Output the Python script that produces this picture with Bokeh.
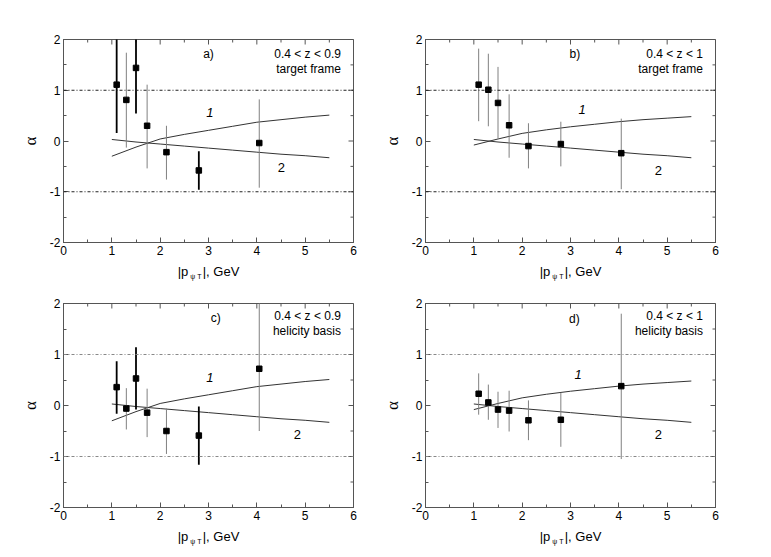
from bokeh.plotting import figure
from bokeh.models import Range1d, SingleIntervalTicker, FixedTicker, LinearAxis, Label, Span
from bokeh.layouts import column, row
from bokeh.embed import file_html
from bokeh.resources import INLINE

# ---------------- data ----------------
pt_x = [1.10, 1.30, 1.50, 1.73, 2.13, 2.80, 4.05]

a_y = [1.11, 0.81, 1.44, 0.30, -0.22, -0.58, -0.04]
a_lo = [0.16, -0.13, 0.54, -0.54, -0.76, -0.96, -0.92]
a_hi = [2.06, 1.74, 2.34, 1.11, 0.30, -0.20, 0.82]

b_y = [1.11, 1.01, 0.75, 0.31, -0.10, -0.06, -0.24]
b_lo = [0.39, 0.29, 0.05, -0.33, -0.54, -0.50, -0.95]
b_hi = [1.82, 1.72, 1.46, 0.92, 0.35, 0.38, 0.44]

c_y = [0.36, -0.06, 0.53, -0.14, -0.50, -0.59, 0.72]
c_lo = [-0.16, -0.47, -0.08, -0.62, -0.95, -1.16, -0.50]
c_hi = [0.87, 0.34, 1.14, 0.33, -0.06, -0.02, 2.05]

d_y = [0.23, 0.06, -0.08, -0.10, -0.29, -0.28, 0.38]
d_lo = [-0.18, -0.28, -0.44, -0.51, -0.68, -0.81, -1.05]
d_hi = [0.63, 0.41, 0.27, 0.29, 0.10, 0.25, 1.80]

curve_x = [1.0, 1.5, 2.0, 2.5, 3.0, 3.5, 4.0, 4.5, 5.0, 5.5]
curve1_ac = [-0.30, -0.12, 0.04, 0.13, 0.21, 0.29, 0.37, 0.42, 0.47, 0.51]
curve1_bd = [-0.08, 0.04, 0.15, 0.22, 0.28, 0.33, 0.38, 0.42, 0.45, 0.48]
curve2 = [0.03, -0.02, -0.06, -0.10, -0.14, -0.18, -0.22, -0.26, -0.29, -0.33]

x_ticks = [0, 1, 2, 3, 4, 5, 6]
y_ticks = [-2, -1, 0, 1, 2]
x_minor = [0.5, 1.5, 2.5, 3.5, 4.5, 5.5]
y_minor = [-1.5, -0.5, 0.5, 1.5]
y_tick_text = {-2: "-2", -1: "-1", 0: "0", 1: "1", 2: "2"}

NB = "\u00a0"
x_title_main = "|p" + NB * 4 + "|, GeV"
x_title_sub = "ψ T"
y_title = "α"

panel_tags = ["a)", "b)", "c)", "d)"]
z_ranges = ["0.4 < z < 0.9", "0.4 < z < 1", "0.4 < z < 0.9", "0.4 < z < 1"]
frames = ["target frame", "target frame", "helicity basis", "helicity basis"]

# style (which error bars are drawn bold)
a_bold = [True, False, True, False, False, True, False]
c_bold = [True, False, True, False, False, True, False]
no_bold = [False] * 7

SANS = "Liberation Sans"
AX = "#555555"


def style_axis(ax):
    ax.ticker = SingleIntervalTicker(interval=1, num_minor_ticks=2)
    ax.axis_line_color = AX
    ax.major_tick_line_color = AX
    ax.minor_tick_line_color = AX
    ax.major_tick_in = 5
    ax.major_tick_out = 0
    ax.minor_tick_in = 3
    ax.minor_tick_out = 0
    ax.major_label_text_font = SANS
    ax.major_label_text_color = "black"
    ax.major_label_text_font_size = "12px"
    ax.major_label_standoff = 3


def make_panel(idx, ys, lo, hi, bold, c1, left, top, bottom, fh, lab):
    p = figure(frame_width=290, frame_height=fh,
               x_range=Range1d(x_ticks[0], x_ticks[-1]),
               y_range=Range1d(y_ticks[0], y_ticks[-1]),
               output_backend="svg", toolbar_location=None,
               min_border_left=left, min_border_right=17,
               min_border_top=top, min_border_bottom=bottom)
    p.grid.visible = False
    p.outline_line_color = AX
    style_axis(p.xaxis[0])
    style_axis(p.yaxis[0])
    p.yaxis.major_label_overrides = y_tick_text
    p.yaxis.axis_label = y_title
    p.yaxis.axis_label_text_font = "Liberation Serif"
    p.yaxis.axis_label_text_font_size = "17px"
    p.yaxis.axis_label_text_font_style = "normal"
    p.yaxis.axis_label_text_color = "black"
    p.yaxis.axis_label_standoff = 7

    # x title: main part on the axis, subscript on a bare second axis below
    p.xaxis.axis_label = x_title_main
    p.xaxis.axis_label_text_font = SANS
    p.xaxis.axis_label_text_font_size = "13px"
    p.xaxis.axis_label_text_font_style = "normal"
    p.xaxis.axis_label_text_color = "black"
    p.xaxis.axis_label_standoff = 6
    sub = LinearAxis(ticker=FixedTicker(ticks=[]), axis_line_color=None,
                     major_tick_line_color=None, minor_tick_line_color=None,
                     major_tick_out=0, minor_tick_out=0, major_label_standoff=0,
                     axis_label=x_title_sub + NB * 13,
                     axis_label_text_font=SANS, axis_label_text_font_size="7px",
                     axis_label_text_font_style="normal",
                     axis_label_text_color="black", axis_label_standoff=-9)
    p.add_layout(sub, "below")

    # mirrored ticks on top and right edges (half of each dash is clipped)
    p.scatter(x_ticks, [y_ticks[-1]] * len(x_ticks), marker="dash", angle=1.5708,
              size=10, line_color=AX)
    p.scatter(x_minor, [y_ticks[-1]] * len(x_minor), marker="dash", angle=1.5708,
              size=6, line_color=AX)
    p.scatter([x_ticks[-1]] * len(y_ticks), y_ticks, marker="dash",
              size=10, line_color=AX)
    p.scatter([x_ticks[-1]] * len(y_minor), y_minor, marker="dash",
              size=6, line_color=AX)

    dash_col = "#222222" if idx < 2 else "#888888"
    for lvl in (1, -1):
        p.add_layout(Span(location=lvl, dimension="width", line_color=dash_col,
                          line_width=1, line_dash="3 2 1 2"))

    p.line(curve_x, c1, line_color="#333333", line_width=1)
    p.line(curve_x, curve2, line_color="#333333", line_width=1)

    bx = [x for x, b in zip(pt_x, bold) if b]
    gx = [x for x, b in zip(pt_x, bold) if not b]
    if bx:
        p.segment(x0=bx, x1=bx,
                  y0=[v for v, b in zip(lo, bold) if b],
                  y1=[v for v, b in zip(hi, bold) if b],
                  line_color="black", line_width=1.8)
    p.segment(x0=gx, x1=gx,
              y0=[v for v, b in zip(lo, bold) if not b],
              y1=[v for v, b in zip(hi, bold) if not b],
              line_color="#808080", line_width=1)
    p.scatter(pt_x, ys, marker="square", size=5.5, color="black")

    # texts
    tag_x, tag_y, zy1, zy2, l1, l2 = lab
    kw = dict(text_font=SANS, text_color="black", text_baseline="middle")
    p.add_layout(Label(x=tag_x, y=tag_y, text=panel_tags[idx],
                       text_font_size="12px", text_align="center", **kw))
    p.add_layout(Label(x=5.74, y=zy1, text=z_ranges[idx],
                       text_font_size="12px", text_align="right", **kw))
    p.add_layout(Label(x=5.74, y=zy2, text=frames[idx],
                       text_font_size="12px", text_align="right", **kw))
    p.add_layout(Label(x=l1[0], y=l1[1], text="1", text_font_size="13px",
                       text_font_style="italic", text_align="center", **kw))
    p.add_layout(Label(x=l2[0], y=l2[1], text="2", text_font_size="13px",
                       text_align="center", **kw))
    return p


pa = make_panel(0, a_y, a_lo, a_hi, a_bold, curve1_ac, 63, 39, 41, 203,
                (3.0, 1.71, 1.71, 1.41, (3.03, 0.56), (4.51, -0.52)))
pb = make_panel(1, b_y, b_lo, b_hi, no_bold, curve1_bd, 55, 39, 41, 203,
                (3.09, 1.71, 1.71, 1.41, (3.24, 0.62), (4.82, -0.58)))
pc = make_panel(2, c_y, c_lo, c_hi, c_bold, curve1_ac, 63, 20, 40, 204,
                (3.15, 1.72, 1.76, 1.47, (3.03, 0.55), (4.84, -0.57)))
pd = make_panel(3, d_y, d_lo, d_hi, no_bold, curve1_bd, 55, 20, 40, 204,
                (3.08, 1.70, 1.76, 1.47, (3.16, 0.60), (4.82, -0.57)))

layout = column(row(pa, pb), row(pc, pd))
open("out.html", "w").write(file_html(layout, INLINE))
